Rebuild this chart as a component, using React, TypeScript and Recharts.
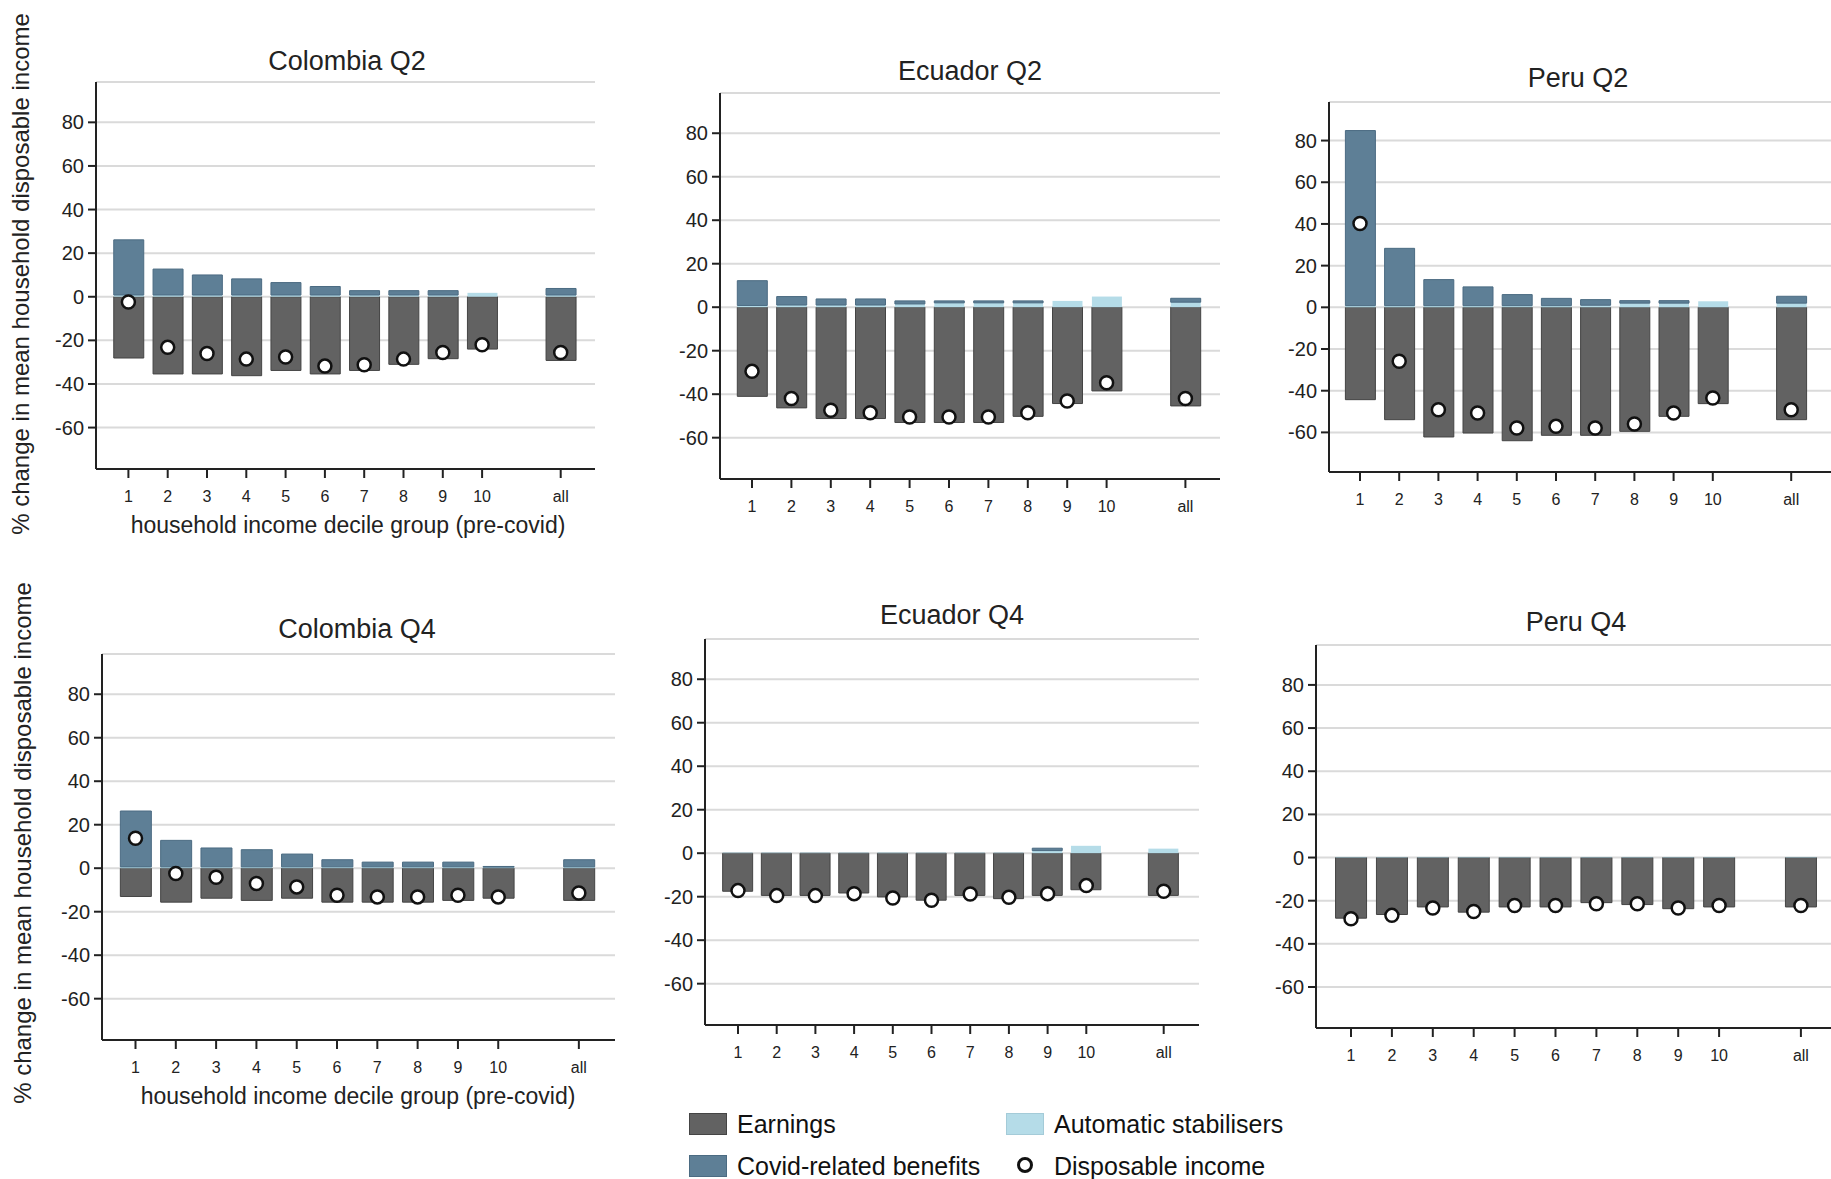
import { ComposedChart, Bar, Line, XAxis, YAxis, CartesianGrid } from 'recharts'

// deciles 1..10 then "all"
const deciles = ['1', '2', '3', '4', '5', '6', '7', '8', '9', '10', 'all']
const yTicks = [-60, -40, -20, 0, 20, 40, 60, 80]

const colQ2Earnings = [-28.1, -35.4, -35.4, -36.2, -33.8, -35.4, -33.8, -31, -28.4, -24, -29.2]
const colQ2Auto = [0.8, 0.8, 0.8, 0.8, 0.8, 0.8, 0.8, 0.8, 0.8, 1.8, 0.8]
const colQ2Covid = [25.3, 11.9, 9.2, 7.4, 5.7, 3.9, 2.0, 2.0, 2.0, 0, 3.0]
const colQ2Disp = [-2.4, -23.2, -26, -28.6, -27.6, -31.8, -31.2, -28.6, -25.6, -22, -25.6]

const ecuQ2Earnings = [-41, -46.3, -51.2, -51.2, -53, -53, -53, -50.2, -44.3, -38.5, -45.4]
const ecuQ2Auto = [0.8, 1, 1, 1, 1.5, 2, 2, 2, 2.9, 4.9, 2.3]
const ecuQ2Covid = [11.4, 3.9, 2.8, 2.8, 1.4, 0.9, 0.9, 0.9, 0, 0, 1.8]
const ecuQ2Disp = [-29.5, -42, -47.4, -48.5, -50.5, -50.5, -50.5, -48.5, -43.1, -34.7, -42]

const perQ2Earnings = [-44.3, -53.9, -62.2, -60.3, -64, -61.4, -61.4, -59.5, -52.3, -46.2, -53.9]
const perQ2Auto = [0.8, 0.8, 0.8, 0.8, 0.8, 0.8, 1, 2, 2, 2.9, 2]
const perQ2Covid = [84, 27.5, 12.5, 9, 5.3, 3.5, 2.7, 1.2, 1.2, 0, 3.3]
const perQ2Disp = [40.2, -25.9, -49.1, -50.7, -57.9, -57.1, -57.9, -56, -50.7, -43.5, -49.1]

const colQ4Earnings = [-13, -15.6, -13.8, -14.8, -13.8, -15.6, -15.6, -15.6, -14.8, -13.8, -14.8]
const colQ4Auto = [0.6, 0.6, 0.6, 0.6, 0.6, 0.6, 0.6, 0.6, 0.6, 0.5, 0.6]
const colQ4Covid = [25.7, 12.2, 8.7, 7.9, 5.9, 3.3, 2.2, 2.2, 2.2, 0.3, 3.3]
const colQ4Disp = [13.8, -2.4, -4.2, -7, -8.6, -12.4, -13.2, -13.2, -12.4, -13.2, -11.4]

const ecuQ4Earnings = [-17.5, -19.4, -19.4, -18.3, -20.1, -21.6, -19.4, -20.9, -19.4, -16.8, -19.4]
const ecuQ4Auto = [0.3, 0.3, 0.3, 0.3, 0.3, 0.3, 0.3, 0.3, 1.2, 3.4, 2.1]
const ecuQ4Covid = [0, 0, 0, 0, 0, 0, 0, 0, 1.1, 0, 0]
const ecuQ4Disp = [-17.2, -19.5, -19.5, -18.6, -20.6, -21.6, -18.8, -20.3, -18.6, -14.9, -17.5]

const perQ4Earnings = [-28.1, -26.4, -22.9, -25.3, -22.9, -22.9, -20.9, -21.8, -23.7, -22.9, -22.9]
const perQ4Auto = [0.3, 0.3, 0.3, 0.3, 0.3, 0.3, 0.3, 0.3, 0.3, 0.3, 0.3]
const perQ4Covid = [0, 0, 0, 0, 0, 0, 0, 0, 0, 0, 0]
const perQ4Disp = [-28.4, -26.8, -23.4, -25, -22.2, -22.2, -21.4, -21.4, -23.4, -22.2, -22.2]

const EARN = '#626262'
const COVID = '#5e7f96'
const AUTO = '#b5dce8'
const FONT = '"Liberation Sans", Arial, Helvetica, sans-serif'

interface Row {
  cat: string
  earn: number | null
  auto: number | null
  covid: number | null
  disp: number | null
}

function buildRows(earn: number[], auto: number[], covid: number[], disp: number[]): Row[] {
  const rows: Row[] = deciles.map((cat, i) => ({ cat, earn: earn[i], auto: auto[i], covid: covid[i], disp: disp[i] }))
  // empty slot between decile 10 and "all"
  rows.splice(10, 0, { cat: '', earn: null, auto: null, covid: null, disp: null })
  return rows
}

function DecileTick({ x, y, payload }: any) {
  if (!payload || payload.value === '') return null
  return (
    <g>
      <line x1={x} x2={x} y1={y} y2={y + 9} stroke="#222" strokeWidth={2} />
      <text x={x} y={y + 27} textAnchor="middle" dominantBaseline="central" fontSize={16} fill="#222" fontFamily={FONT}>
        {payload.value}
      </text>
    </g>
  )
}

interface PanelProps {
  title: string
  rows: Row[]
  left: number
  top: number
  right: number
  bottom: number
  padL: number
  padR: number
  barSize: number
  titleX: number
  titleY: number
}

const Y_W = 80
const TOP_M = 12
const X_H = 44

function Panel({ title, rows, left, top, right, bottom, padL, padR, barSize, titleX, titleY }: PanelProps) {
  const w = right - left + Y_W
  const h = bottom - top + TOP_M + X_H
  return (
    <>
      <div
        style={{
          position: 'absolute',
          left: titleX - 200,
          width: 400,
          top: titleY - 16,
          height: 32,
          lineHeight: '32px',
          textAlign: 'center',
          fontSize: 27,
          color: '#222',
          fontFamily: FONT,
        }}
      >
        {title}
      </div>
      <div style={{ position: 'absolute', left: left - Y_W, top: top - TOP_M }}>
        <ComposedChart
          width={w}
          height={h}
          data={rows}
          stackOffset="sign"
          barGap={0}
          margin={{ top: TOP_M, right: 0, bottom: 0, left: 0 }}
        >
          <CartesianGrid vertical={false} stroke="#dadada" strokeWidth={2} />
          <XAxis
            dataKey="cat"
            interval={0}
            height={X_H}
            padding={{ left: padL, right: padR }}
            axisLine={{ stroke: '#222', strokeWidth: 2 }}
            tickLine={false}
            tickSize={0}
            tickMargin={0}
            tick={<DecileTick />}
          />
          <YAxis
            width={Y_W}
            domain={[-79, 98.5]}
            ticks={yTicks}
            allowDataOverflow
            interval={0}
            axisLine={{ stroke: '#222', strokeWidth: 2 }}
            tickLine={{ stroke: '#222', strokeWidth: 2 }}
            tickSize={8}
            tickMargin={4}
            tick={{ fontSize: 20, fill: '#222', fontFamily: FONT }}
          />
          <Bar dataKey="earn" stackId="s" fill={EARN} stroke="#444" strokeWidth={1} barSize={barSize} isAnimationActive={false} />
          <Bar dataKey="auto" stackId="s" fill={AUTO} barSize={barSize} isAnimationActive={false} />
          <Bar dataKey="covid" stackId="s" fill={COVID} stroke="#4b6b82" strokeWidth={1} barSize={barSize} isAnimationActive={false} />
          <Line
            dataKey="disp"
            stroke="none"
            dot={{ r: 6.5, fill: '#fff', stroke: '#111', strokeWidth: 2.5 }}
            activeDot={false}
            isAnimationActive={false}
          />
        </ComposedChart>
      </div>
    </>
  )
}

const panels: PanelProps[] = [
  { title: 'Colombia Q2', rows: buildRows(colQ2Earnings, colQ2Auto, colQ2Covid, colQ2Disp), left: 96, top: 82, right: 595, bottom: 469, padL: 12.75, padR: 14.65, barSize: 30, titleX: 347, titleY: 61 },
  { title: 'Ecuador Q2', rows: buildRows(ecuQ2Earnings, ecuQ2Auto, ecuQ2Covid, ecuQ2Disp), left: 720, top: 93, right: 1220, bottom: 479, padL: 12.3, padR: 14.9, barSize: 30, titleX: 970, titleY: 71 },
  { title: 'Peru Q2', rows: buildRows(perQ2Earnings, perQ2Auto, perQ2Covid, perQ2Disp), left: 1329, top: 102, right: 1831, bottom: 472, padL: 11.4, padR: 20.2, barSize: 30, titleX: 1578, titleY: 78 },
  { title: 'Colombia Q4', rows: buildRows(colQ4Earnings, colQ4Auto, colQ4Covid, colQ4Disp), left: 102, top: 654, right: 615, bottom: 1040, padL: 13.35, padR: 16, barSize: 31, titleX: 357, titleY: 629 },
  { title: 'Ecuador Q4', rows: buildRows(ecuQ4Earnings, ecuQ4Auto, ecuQ4Covid, ecuQ4Disp), left: 705, top: 639, right: 1199, bottom: 1025, padL: 13.65, padR: 15.95, barSize: 30, titleX: 952, titleY: 615 },
  { title: 'Peru Q4', rows: buildRows(perQ4Earnings, perQ4Auto, perQ4Covid, perQ4Disp), left: 1316, top: 645, right: 1831, bottom: 1028, padL: 14.55, padR: 9.65, barSize: 31, titleX: 1576, titleY: 622 },
]

const yLabel = '% change in mean household disposable income'
const xLabel = 'household income decile group (pre-covid)'

function YLabel({ cx, cy }: { cx: number; cy: number }) {
  return (
    <div
      style={{
        position: 'absolute',
        left: cx - 300,
        top: cy - 15,
        width: 600,
        height: 30,
        lineHeight: '30px',
        textAlign: 'center',
        fontSize: 24,
        color: '#222',
        fontFamily: FONT,
        transform: 'rotate(-90deg)',
        whiteSpace: 'nowrap',
      }}
    >
      {yLabel}
    </div>
  )
}

function XLabel({ cx, cy }: { cx: number; cy: number }) {
  return (
    <div
      style={{
        position: 'absolute',
        left: cx - 300,
        top: cy - 15,
        width: 600,
        height: 30,
        lineHeight: '30px',
        textAlign: 'center',
        fontSize: 23,
        color: '#222',
        fontFamily: FONT,
        whiteSpace: 'nowrap',
      }}
    >
      {xLabel}
    </div>
  )
}

function Swatch({ x, y, color, border }: { x: number; y: number; color: string; border: string }) {
  return (
    <div
      style={{
        position: 'absolute',
        left: x,
        top: y,
        width: 36,
        height: 20,
        background: color,
        border: `1px solid ${border}`,
      }}
    />
  )
}

function LegendText({ x, y, text }: { x: number; y: number; text: string }) {
  return (
    <div
      style={{
        position: 'absolute',
        left: x,
        top: y - 15,
        height: 30,
        lineHeight: '30px',
        fontSize: 25,
        color: '#111',
        fontFamily: FONT,
        whiteSpace: 'nowrap',
      }}
    >
      {text}
    </div>
  )
}

export default function App() {
  return (
    <div style={{ position: 'absolute', left: 0, top: 0, width: 1831, height: 1179, background: '#fff', overflow: 'hidden' }}>
      {panels.map((p) => (
        <Panel key={p.title} {...p} />
      ))}
      <YLabel cx={21} cy={274} />
      <YLabel cx={23} cy={843} />
      <XLabel cx={348} cy={525} />
      <XLabel cx={358} cy={1096} />

      <Swatch x={689} y={1113} color={EARN} border="#444" />
      <LegendText x={737} y={1124} text="Earnings" />
      <Swatch x={1006} y={1113} color={AUTO} border="#a4cbd8" />
      <LegendText x={1054} y={1124} text="Automatic stabilisers" />
      <Swatch x={689} y={1155} color={COVID} border="#4b6b82" />
      <LegendText x={737} y={1166} text="Covid-related benefits" />
      <svg style={{ position: 'absolute', left: 1015, top: 1155 }} width={20} height={20}>
        <circle cx={10} cy={10} r={6.5} fill="#fff" stroke="#111" strokeWidth={3} />
      </svg>
      <LegendText x={1054} y={1166} text="Disposable income" />
    </div>
  )
}
